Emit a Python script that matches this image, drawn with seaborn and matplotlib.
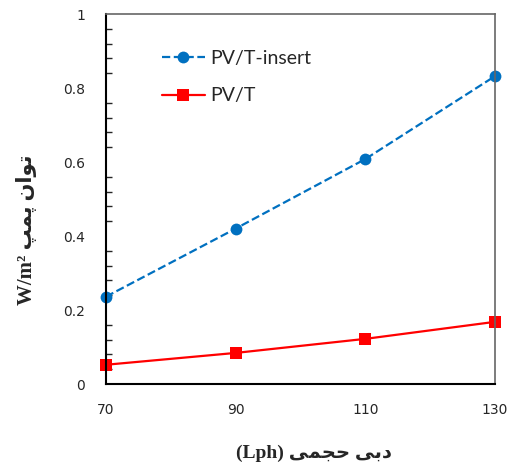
import matplotlib
matplotlib.use("Agg")
import matplotlib.pyplot as plt
import seaborn as sns
import pandas as pd
from matplotlib.ticker import MultipleLocator

flow = [70, 90, 110, 130]
pvt_insert = [0.236, 0.420, 0.608, 0.832]
pvt = [0.052, 0.084, 0.122, 0.168]
series_names = ["PV/T-insert", "PV/T"]
xticks = [70, 90, 110, 130]
yticks = [0, 0.2, 0.4, 0.6, 0.8, 1]
ytick_labels = ["0", "0.2", "0.4", "0.6", "0.8", "1"]

# Persian labels written in visual (shaped, left-to-right) order
ylabel_text = "W/m\u00b2 " + "\uFB57\uFEE4\uFB58" + " " + "\uFEE5\uFE8D\uFEEE\uFE97"
xlabel_text = "(Lph) " + "\uFBFD\uFEE4\uFEA0\uFEA3" + " " + "\uFBFD\uFE91\uFEA9"

sns.set_style("white")
plt.rcParams['font.family'] = ['DejaVu Sans']

df1 = pd.DataFrame({"x": flow, "y": pvt_insert})
df2 = pd.DataFrame({"x": flow, "y": pvt})

W, H = 513, 469
fig = plt.figure(figsize=(W/100, H/100), dpi=100)
ax = fig.add_axes([106/W, 1-384/H, (495-106)/W, (384-14)/H])

sns.lineplot(data=df1, x="x", y="y", ax=ax, color="#0070C0", linestyle="--",
             marker="o", markersize=8.5, markeredgewidth=0, linewidth=1.6,
             label=series_names[0], clip_on=False)
sns.lineplot(data=df2, x="x", y="y", ax=ax, color="#FF0000", linestyle="-",
             marker="s", markersize=8.5, markeredgewidth=0, linewidth=1.6,
             label=series_names[1], clip_on=False)

ax.set_xlim(70, 130)
ax.set_ylim(0, 1)
ax.set_xticks(xticks)
ax.set_xticklabels([str(v) for v in xticks])
ax.set_yticks(yticks)
ax.set_yticklabels(ytick_labels)
ax.yaxis.set_minor_locator(MultipleLocator(0.04))
ax.tick_params(axis='both', which='major', direction='in', length=5, width=1,
               labelsize=10, colors='black', labelcolor='#262626')
ax.tick_params(axis='x', pad=14)
ax.tick_params(axis='y', pad=15)
ax.tick_params(axis='y', which='minor', direction='in', length=4, width=1, left=True)

for s in ['left', 'bottom']:
    ax.spines[s].set_color('black')
    ax.spines[s].set_linewidth(1.5)
for s in ['top', 'right']:
    ax.spines[s].set_color('#666666')
    ax.spines[s].set_linewidth(1.2)

ax.set_xlabel("")
ax.set_ylabel("")
fig.text(314/W, 1-453/H, xlabel_text, ha='center', va='center', fontsize=14,
         fontweight='bold', family=['Liberation Serif', 'DejaVu Sans'])
fig.text(27/W, 1-230/H, ylabel_text, ha='center', va='center', fontsize=15,
         fontweight='bold', rotation=90, family=['Liberation Serif', 'DejaVu Sans'])

leg = ax.legend(loc='upper left', bbox_to_anchor=(162/W, 1-50/H),
                bbox_transform=fig.transFigure, frameon=False,
                borderpad=0, borderaxespad=0,
                prop={'family': 'Lato', 'size': 14},
                handlelength=2.2, labelspacing=1.05, handletextpad=0.3)

fig.savefig("out.png", dpi=100)
